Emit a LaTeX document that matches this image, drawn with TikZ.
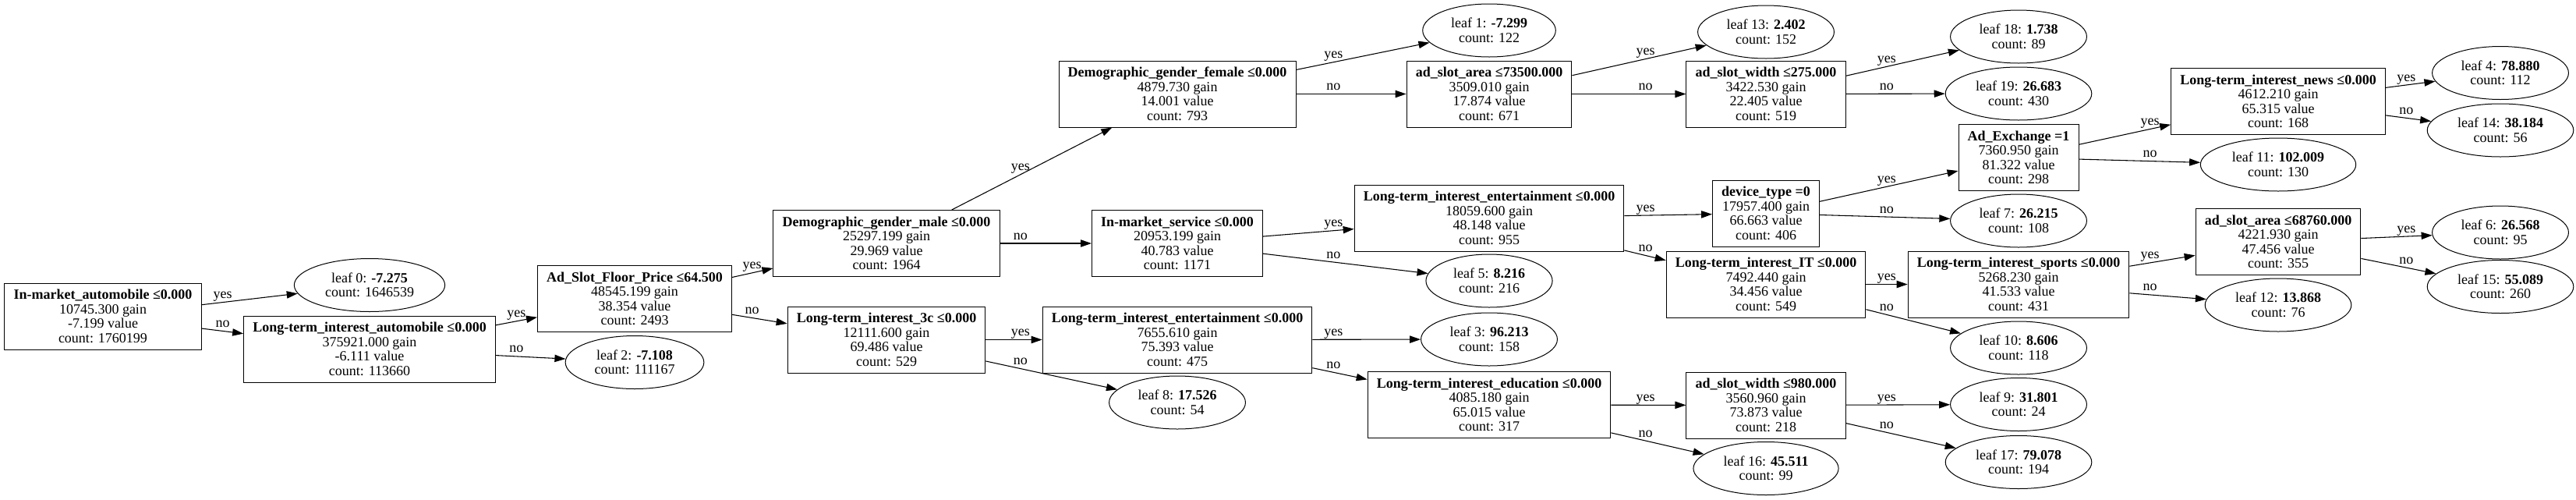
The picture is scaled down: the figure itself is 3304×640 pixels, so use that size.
\documentclass[tikz,border=0pt]{standalone}
\usepackage{fontspec}
\setmainfont{Liberation Serif}
\usetikzlibrary{shapes.geometric,arrows.meta}

\begin{document}
\begin{tikzpicture}[
    x=0.75pt, y=-0.75pt,
    font=\fontsize{13.5}{13.9}\selectfont,
    split/.style={rectangle, draw, line width=0.75pt, minimum height=63.75pt, inner xsep=8.7pt, inner ysep=2pt, align=center},
    leaf/.style={ellipse, draw, line width=0.75pt, minimum height=51pt, inner xsep=8.5pt, inner ysep=2pt, align=center},
    arrow/.style={-{Triangle[length=10.5pt, width=7pt]}, line width=0.8pt},
    lbl/.style={anchor=south, inner sep=1pt, text height=0.7em, text depth=0.25em}
]
    \useasboundingbox (0,0) rectangle (3304,640);

    % Rank 0
    \node[split] (s0) at (132,405.5) {\textbf{In-market\_automobile ≤0.000}\\10745.300 gain\\-7.199 value\\count: 1760199};

    % Rank 1
    \node[leaf] (l0) at (474,365.5) {leaf 0: \textbf{-7.275}\\count: 1646539};
    \node[split] (s1) at (474,447.5) {\textbf{Long-term\_interest\_automobile ≤0.000}\\375921.000 gain\\-6.111 value\\count: 113660};

    % Rank 2
    \node[split] (s2) at (814,383) {\textbf{Ad\_Slot\_Floor\_Price ≤64.500}\\48545.199 gain\\38.354 value\\count: 2493};
    \node[leaf] (l2) at (814,464.5) {leaf 2: \textbf{-7.108}\\count: 111167};

    % Rank 3
    \node[split] (s3) at (1137,312) {\textbf{Demographic\_gender\_male ≤0.000}\\25297.199 gain\\29.969 value\\count: 1964};
    \node[split] (s4) at (1137,435.5) {\textbf{Long-term\_interest\_3c ≤0.000}\\12111.600 gain\\69.486 value\\count: 529};

    % Rank 4
    \node[split] (s5) at (1510,120.5) {\textbf{Demographic\_gender\_female ≤0.000}\\4879.730 gain\\14.001 value\\count: 793};
    \node[split] (s6) at (1510,312) {\textbf{In-market\_service ≤0.000}\\20953.199 gain\\40.783 value\\count: 1171};
    \node[split] (s7) at (1510,435.5) {\textbf{Long-term\_interest\_entertainment ≤0.000}\\7655.610 gain\\75.393 value\\count: 475};
    \node[leaf] (l8) at (1510,516) {leaf 8: \textbf{17.526}\\count: 54};

    % Rank 5
    \node[leaf] (l1) at (1910,39) {leaf 1: \textbf{-7.299}\\count: 122};
    \node[split] (s8) at (1910,120.5) {\textbf{ad\_slot\_area ≤73500.000}\\3509.010 gain\\17.874 value\\count: 671};
    \node[split] (s9) at (1910,279.5) {\textbf{Long-term\_interest\_entertainment ≤0.000}\\18059.600 gain\\48.148 value\\count: 955};
    \node[leaf] (l5) at (1910,360) {leaf 5: \textbf{8.216}\\count: 216};
    \node[leaf] (l3) at (1910,435) {leaf 3: \textbf{96.213}\\count: 158};
    \node[split] (s10) at (1910,519) {\textbf{Long-term\_interest\_education ≤0.000}\\4085.180 gain\\65.015 value\\count: 317};

    % Rank 6
    \node[leaf] (l13) at (2265,41) {leaf 13: \textbf{2.402}\\count: 152};
    \node[split] (s11) at (2265,120.5) {\textbf{ad\_slot\_width ≤275.000}\\3422.530 gain\\22.405 value\\count: 519};
    \node[split] (s12) at (2265,273.5) {\textbf{device\_type =0}\\17957.400 gain\\66.663 value\\count: 406};
    \node[split] (s13) at (2265,364.5) {\textbf{Long-term\_interest\_IT ≤0.000}\\7492.440 gain\\34.456 value\\count: 549};
    \node[split] (s14) at (2265,519.5) {\textbf{ad\_slot\_width ≤980.000}\\3560.960 gain\\73.873 value\\count: 218};
    \node[leaf] (l16) at (2265,600.5) {leaf 16: \textbf{45.511}\\count: 99};

    % Rank 7
    \node[leaf] (l18) at (2589,47) {leaf 18: \textbf{1.738}\\count: 89};
    \node[leaf] (l19) at (2589,120) {leaf 19: \textbf{26.683}\\count: 430};
    \node[split] (s15) at (2589,202) {\textbf{Ad\_Exchange =1}\\7360.950 gain\\81.322 value\\count: 298};
    \node[leaf] (l7) at (2589,283) {leaf 7: \textbf{26.215}\\count: 108};
    \node[split] (s16) at (2589,364.5) {\textbf{Long-term\_interest\_sports ≤0.000}\\5268.230 gain\\41.533 value\\count: 431};
    \node[leaf] (l10) at (2589,446) {leaf 10: \textbf{8.606}\\count: 118};
    \node[leaf] (l9) at (2589,518.5) {leaf 9: \textbf{31.801}\\count: 24};
    \node[leaf] (l17) at (2589,592.5) {leaf 17: \textbf{79.078}\\count: 194};

    % Rank 8
    \node[split] (s17) at (2922,130) {\textbf{Long-term\_interest\_news ≤0.000}\\4612.210 gain\\65.315 value\\count: 168};
    \node[leaf] (l11) at (2922,211) {leaf 11: \textbf{102.009}\\count: 130};
    \node[split] (s18) at (2922,310) {\textbf{ad\_slot\_area ≤68760.000}\\4221.930 gain\\47.456 value\\count: 355};
    \node[leaf] (l12) at (2922,391) {leaf 12: \textbf{13.868}\\count: 76};

    % Rank 9
    \node[leaf] (l4) at (3207,93.5) {leaf 4: \textbf{78.880}\\count: 112};
    \node[leaf] (l14) at (3207,167) {leaf 14: \textbf{38.184}\\count: 56};
    \node[leaf] (l6) at (3207,298) {leaf 6: \textbf{26.568}\\count: 95};
    \node[leaf] (l15) at (3207,367.5) {leaf 15: \textbf{55.089}\\count: 260};

    % Edges: parent/child/answer/label position
    \foreach \src/\dst/\ans/\where in {
        s0/l0/yes/0.449, s0/s1/no/0.449,
        s1/s2/yes/0.554, s1/l2/no/0.554,
        s2/s3/yes/0.466, s2/s4/no/0.466,
        s3/s5/yes/0.461, s3/s6/no/0.461,
        s4/s7/yes/0.461, s4/l8/no/0.461,
        s5/l1/yes/0.501, s5/s8/no/0.501,
        s6/s9/yes/0.501, s6/l5/no/0.501,
        s7/l3/yes/0.501, s7/s10/no/0.501,
        s8/l13/yes/0.565, s8/s11/no/0.565,
        s9/s12/yes/0.565, s9/s13/no/0.565,
        s10/s14/yes/0.565, s10/l16/no/0.565,
        s11/l18/yes/0.478, s11/l19/no/0.478,
        s12/s15/yes/0.478, s12/l7/no/0.478,
        s13/s16/yes/0.478, s13/l10/no/0.478,
        s14/l9/yes/0.478, s14/l17/no/0.478,
        s15/s17/yes/0.506, s15/l11/no/0.506,
        s16/s18/yes/0.506, s16/l12/no/0.506,
        s17/l4/yes/0.577, s17/l14/no/0.577,
        s18/l6/yes/0.577, s18/l15/no/0.577} {
        \draw[arrow] (\src) -- (\dst);
        \path (\src.center) -- (\dst.center) node[lbl, pos=\where] {\ans};
    }
\end{tikzpicture}
\end{document}
